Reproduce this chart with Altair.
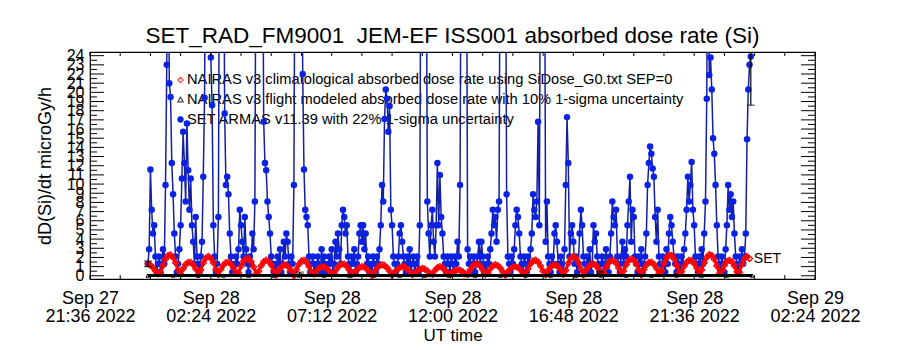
import altair as alt
import pandas as pd

# ---------------- data ----------------
# x axis: minutes after 2022-09-27 21:36 UT
x_domain = [0, 1728]
y_domain = [-0.35, 24.4]
x_tick_values = [0, 288, 576, 864, 1152, 1440, 1728]
x_tick_line1 = ["Sep 27", "Sep 28", "Sep 28", "Sep 28", "Sep 28", "Sep 28", "Sep 29"]
x_tick_line2 = ["21:36 2022", "02:24 2022", "07:12 2022", "12:00 2022",
                "16:48 2022", "21:36 2022", "02:24 2022"]
x_minor_ticks = [0, 72, 144, 216, 288, 360, 432, 504, 576, 648, 720, 792, 864, 936,
                 1008, 1080, 1152, 1224, 1296, 1368, 1440, 1512, 1584, 1656, 1728]
y_major_ticks = list(range(0, 25))
y_minor_ticks = [k + 0.5 for k in range(0, 24)]

# SET ARMAS v11.39 dose rate, one sample every 3 min starting 23:54 UT (values > 24 are off scale)
set_start, set_step = 138, 3
set_values = [
    1.3, 2.9, 11.6, 7.2, 4.6, 5.5, 2.1, 0.4, 1.3, 2.1, 0.4, 1.3, 2.9, 1.3, 9.9, 23.0, 45, 21.0, 19.5, 12.3,
    8.9, 4.6, 2.1, 0.4, 1.3, 2.9, 5.5, 10.6, 15.7, 12.3, 8.1, 16.6, 11.5, 7.2, 10.6, 5.5, 3.7, 1.3, 6.4, 2.1,
    1.3, 0.4, 2.1, 3.7, 10.8, 19.4, 45, 45, 45, 45, 23.8, 18.6, 5.5, 2.1, 0.4, 1.3, 6.4, 45, 45, 45,
    45, 17.7, 9.9, 10.8, 8.9, 4.6, 2.1, 0.4, 1.3, 0.4, 2.1, 1.3, 2.9, 7.2, 5.5, 3.7, 2.1, 6.4, 2.9, 1.3,
    0.4, 2.1, 1.3, 4.6, 2.9, 8.1, 45, 45, 45, 45, 45, 45, 16.8, 12.3, 11.5, 8.1, 6.4, 4.6, 2.1, 1.3,
    0.4, 1.3, 0.4, 2.1, 1.3, 2.9, 0.4, 1.3, 3.7, 2.1, 4.6, 3.7, 1.3, 0.4, 2.1, 1.3, 9.9, 45, 45, 45,
    45, 45, 45, 22.0, 11.6, 7.2, 6.4, 5.5, 2.1, 0.4, 1.3, 2.1, 0.4, 1.3, 0.4, 2.1, 1.3, 0.4, 2.9, 1.3,
    2.1, 0.4, 1.3, 0.4, 2.1, 1.3, 2.9, 0.4, 1.3, 3.7, 2.1, 4.6, 2.9, 1.3, 5.5, 7.2, 6.4, 4.6, 5.5, 2.1,
    1.3, 0.4, 2.1, 1.3, 2.9, 0.4, 1.3, 2.1, 4.6, 5.5, 3.7, 5.5, 2.9, 4.6, 1.3, 2.1, 0.4, 1.3, 0.4, 2.1,
    1.3, 0.4, 2.1, 1.3, 2.9, 5.5, 9.9, 8.1, 17.1, 20.3, 19.3, 15.7, 18.5, 7.2, 5.5, 2.1, 1.3, 0.4, 1.3, 2.1,
    4.6, 5.5, 3.7, 2.1, 1.3, 0.4, 2.1, 1.3, 2.9, 0.4, 1.3, 2.1, 0.4, 1.3, 2.1, 0.4, 5.5, 45, 45, 45,
    45, 45, 8.1, 4.6, 2.1, 5.5, 7.2, 3.7, 2.1, 5.5, 12.3, 5.5, 11.0, 6.4, 4.6, 2.1, 1.3, 0.4, 2.1, 1.3,
    0.4, 2.1, 1.3, 0.4, 2.1, 1.3, 3.7, 2.1, 9.9, 45, 45, 45, 45, 45, 2.9, 1.3, 2.1, 0.4, 1.3, 2.1,
    0.4, 1.3, 2.1, 3.7, 1.3, 3.7, 2.1, 0.4, 1.3, 0.4, 2.1, 1.3, 2.9, 4.6, 7.2, 5.5, 6.4, 3.7, 7.2, 8.1,
    45, 45, 45, 45, 45, 8.9, 2.1, 1.3, 0.4, 2.1, 1.3, 2.9, 5.5, 7.2, 6.4, 4.6, 2.1, 1.3, 0.4, 2.1,
    1.3, 0.4, 2.1, 1.3, 2.9, 4.6, 8.9, 7.2, 6.4, 8.1, 16.8, 5.5, 45, 45, 45, 45, 3.7, 8.1, 2.1, 1.3,
    0.4, 2.1, 1.3, 4.6, 5.5, 3.7, 1.3, 0.4, 2.1, 1.3, 0.4, 2.9, 9.9, 17.3, 12.3, 2.1, 4.6, 5.5, 3.7, 1.3,
    2.1, 0.4, 1.3, 4.6, 7.2, 5.5, 2.1, 1.3, 0.4, 2.1, 1.3, 2.9, 0.4, 1.3, 5.5, 3.7, 4.6, 2.1, 1.3, 0.4,
    1.3, 2.1, 0.4, 1.3, 2.9, 1.3, 0.4, 2.1, 4.6, 8.1, 6.4, 5.5, 7.2, 2.1, 1.3, 0.4, 2.1, 3.7, 1.3, 2.9,
    2.1, 5.5, 8.1, 10.8, 3.7, 7.2, 6.4, 2.1, 1.3, 0.4, 2.1, 1.3, 2.9, 0.4, 1.3, 2.1, 4.6, 9.9, 12.3, 14.1,
    13.3, 11.7, 10.8, 6.4, 3.7, 7.2, 2.1, 1.3, 0.4, 2.1, 1.3, 0.4, 2.9, 1.3, 4.6, 6.4, 5.5, 3.7, 2.1, 1.3,
    0.4, 2.1, 1.3, 0.4, 2.1, 1.3, 2.9, 4.6, 7.2, 10.8, 8.1, 9.9, 12.4, 7.2, 5.5, 2.1, 1.3, 0.4, 2.1, 1.3,
    2.9, 1.3, 4.6, 8.1, 19.3, 45, 21.9, 23.8, 20.3, 15.0, 13.3, 9.9, 5.5, 2.1, 1.3, 0.4, 2.1, 1.3, 0.4, 2.9,
    5.5, 9.9, 7.2, 8.9, 6.4, 8.1, 4.6, 2.1, 1.3, 0.4, 2.1, 1.3, 2.9, 1.3, 2.1, 4.6, 14.9, 20.3, 23.0, 23.9,
]

# NAIRAS v3 climatological dose rate, one value every 6 min from 23:54 UT
clim_start, clim_step = 138, 6
clim_values = [
    1.3, 1.15, 0.9, 0.55, 0.2,
    0.27, 1.12, 1.81, 2.21, 2.28, 2.0, 1.42, 0.62,
    0.19, 0.77, 1.23, 1.47, 1.46, 1.21, 0.75, 0.15,
    0.64, 1.40, 1.91, 2.1, 1.93, 1.43, 0.69,
    0.12, 0.70, 1.17, 1.44, 1.49, 1.29, 0.88, 0.33,
    0.34, 1.05, 1.59, 1.87, 1.85, 1.53, 0.96, 0.23,
    0.49, 1.1, 1.53, 1.7, 1.58, 1.18, 0.59,
    0.08, 0.58, 0.97, 1.18, 1.16, 0.92, 0.51,
    0.02, 0.69, 1.26, 1.61, 1.69, 1.48, 1.02, 0.39,
    0.18, 0.54, 0.82, 0.98, 0.98, 0.84, 0.56, 0.2,
    0.26, 0.74, 1.1, 1.28, 1.26, 1.03, 0.63, 0.13,
    0.3, 0.65, 0.9, 1.0, 0.94, 0.72, 0.4,
    0.02, 0.45, 0.84, 1.1, 1.2, 1.12, 0.88, 0.51, 0.07,
    0.32, 0.65, 0.89, 1.0, 0.96, 0.78, 0.48, 0.12,
    0.24, 0.53, 0.73, 0.8, 0.72, 0.52, 0.22,
    0.16, 0.59, 0.89, 1.0, 0.9, 0.61, 0.19,
    0.17, 0.41, 0.58, 0.65, 0.6, 0.44, 0.21,
    0.14, 0.65, 1.05, 1.27, 1.28, 1.06, 0.67, 0.16,
    0.34, 0.78, 1.08, 1.2, 1.11, 0.84, 0.42,
    0.06, 0.44, 0.75, 0.95, 1.0, 0.89, 0.65, 0.31,
    0.13, 0.78, 1.3, 1.62, 1.69, 1.5, 1.08, 0.5,
    0.12, 0.6, 0.97, 1.17, 1.18, 0.98, 0.62, 0.15,
    0.6, 1.37, 1.89, 2.1, 1.95, 1.46, 0.73,
    0.08, 0.59, 1.0, 1.25, 1.29, 1.12, 0.77, 0.29,
    0.31, 0.94, 1.42, 1.67, 1.65, 1.37, 0.86, 0.21,
    0.53, 1.2, 1.67, 1.85, 1.71, 1.29, 0.64,
    0.09, 0.69, 1.17, 1.45, 1.48, 1.26, 0.82, 0.25,
    0.54, 1.36, 1.97, 2.27, 2.23, 1.84, 1.17, 0.32,
    0.43, 1.03, 1.47, 1.69, 1.64, 1.34, 0.84, 0.2,
    0.63, 1.43, 2.01, 2.29, 2.21, 1.79, 1.09, 0.23,
    0.54, 1.16, 1.57, 1.7, 1.52, 1.07, 0.44,
    0.39, 1.27, 1.88, 2.1, 1.88,
]

# NAIRAS v3 flight modeled dose rate, hourly from 23:54 UT
flight_start, flight_step = 138, 60
flight_values = [0.02, 0.03, 0.02, 0.03, 0.02, 0.02, 0.03, 0.02, 0.02, 0.03, 0.02, 0.02, 0.03,
                 0.02, 0.02, 0.03, 0.02, 0.02, 0.03, 0.02, 0.02, 0.03, 0.02, 0.02, 0.03]

# uncertainty bars
err_t = [138, 500, 1216, 1575]
err_lo = [1.0, 0.2, 0.3, 18.6]
err_hi = [1.6, 0.4, 0.5, 29.2]

legend_labels = [
    "NAIRAS v3 climatological absorbed dose rate using SiDose_G0.txt SEP=0",
    "NAIRAS v3 flight modeled absorbed dose rate with 10% 1-sigma uncertainty",
    "SET ARMAS v11.39 with 22% 1-sigma uncertainty",
]
title_text = "SET_RAD_FM9001\u00a0\u00a0JEM-EF ISS001 absorbed dose rate (Si)"

# ---------------- tables ----------------
set_df = pd.DataFrame({"t": [set_start + set_step * i for i in range(len(set_values))], "v": set_values})
clim_df = pd.DataFrame({"t": [clim_start + clim_step * i for i in range(len(clim_values))], "v": clim_values})
flight_df = pd.DataFrame({"t": [flight_start + flight_step * i for i in range(len(flight_values))],
                          "v": flight_values})
err_df = pd.DataFrame({"t": err_t, "v": err_lo, "hi": err_hi})
ymaj_df = pd.DataFrame({"v": y_major_ticks})
ymin_df = pd.DataFrame({"v": y_minor_ticks})
xmin_df = pd.DataFrame({"t": x_minor_ticks})
set_lbl_df = pd.DataFrame({"t": [set_df["t"].iloc[-1]], "v": [1.85], "txt": ["SET"]})

W, H = 725, 227
FONT = "Liberation Sans"
BLUE_LINE = "#1420a0"
BLUE_PT = "#0a22e6"

arr = "[" + ",".join(f"['{a}','{b}']" for a, b in zip(x_tick_line1, x_tick_line2)) + "]"
label_expr = f"{arr}[round(datum.value / 288)]"

xs = alt.Scale(domain=x_domain, nice=False, zero=False)
ys = alt.Scale(domain=y_domain, nice=False, zero=False)

x_axis = alt.Axis(values=x_tick_values, labelExpr=label_expr, ticks=False, domain=False, grid=False,
                  labelFont=FONT, labelFontSize=18, labelLineHeight=18, labelPadding=10,
                  labelColor="black", labelFlush=False, labelOverlap=False,
                  title="UT time", titleFont=FONT, titleFontSize=17, titleFontWeight="normal",
                  titleColor="black", titlePadding=2)
y_axis = alt.Axis(values=y_major_ticks, ticks=False, domain=False, grid=False,
                  labelFont=FONT, labelFontSize=16, labelPadding=6, labelColor="black",
                  labelOverlap=False, labelFlush=False,
                  title="dD(Si)/dt microGy/h", titleFont=FONT, titleFontSize=18,
                  titleFontWeight="normal", titleColor="black", titlePadding=12)

# one shared encoding (same scale + same axis) for every layer
X = alt.X("t:Q", scale=xs, axis=x_axis)
Y = alt.Y("v:Q", scale=ys, axis=y_axis)

layers = []

# legend text (drawn first, data lines cross over it)
leg_y = [28, 47.5, 67.5]
for lbl, yy in zip(legend_labels, leg_y):
    layers.append(alt.Chart(pd.DataFrame({"txt": [lbl]})).mark_text(
        align="left", baseline="middle", font=FONT, fontSize=14.7, color="black"
    ).encode(x=alt.value(97), y=alt.value(yy), text="txt:N"))
layers.append(alt.Chart(pd.DataFrame({"k": [0]})).mark_point(
    shape="diamond", filled=False, color="red", size=28, strokeWidth=1.2
).encode(x=alt.value(90.5), y=alt.value(leg_y[0])))
layers.append(alt.Chart(pd.DataFrame({"k": [0]})).mark_point(
    shape="triangle-up", filled=False, color="black", size=30, strokeWidth=1.2
).encode(x=alt.value(90.5), y=alt.value(leg_y[1])))
layers.append(alt.Chart(pd.DataFrame({"k": [0]})).mark_point(
    shape="circle", filled=True, color=BLUE_PT, size=40, opacity=1
).encode(x=alt.value(90.5), y=alt.value(leg_y[2])))

# SET ARMAS
layers.append(alt.Chart(set_df).mark_line(color=BLUE_LINE, strokeWidth=1.5, clip=True).encode(x=X, y=Y))
layers.append(alt.Chart(set_df).mark_point(shape="circle", filled=True, color=BLUE_PT, size=42,
                                           opacity=1, clip=True).encode(x=X, y=Y))

# NAIRAS climatological
layers.append(alt.Chart(clim_df).mark_line(color="red", strokeWidth=3, clip=True).encode(x=X, y=Y))
layers.append(alt.Chart(clim_df).mark_point(shape="diamond", filled=False, color="red", size=36,
                                            strokeWidth=1.3, opacity=1, clip=True).encode(x=X, y=Y))

# NAIRAS flight
layers.append(alt.Chart(flight_df).mark_line(color="black", strokeWidth=3, clip=True).encode(x=X, y=Y))
layers.append(alt.Chart(flight_df).mark_point(shape="triangle-up", filled=False, color="black", size=14,
                                              strokeWidth=1, opacity=1, clip=True).encode(x=X, y=Y))

# uncertainty bars
layers.append(alt.Chart(err_df).mark_rule(color="black", strokeWidth=1.2, clip=True).encode(
    x=X, y=Y, y2="hi:Q"))
layers.append(alt.Chart(err_df).mark_tick(orient="horizontal", color="black", size=8, thickness=1.2,
                                          clip=True).encode(x=X, y=Y))
layers.append(alt.Chart(err_df).mark_tick(orient="horizontal", color="black", size=8, thickness=1.2,
                                          clip=True).encode(x=X, y=alt.Y("hi:Q", scale=ys, axis=y_axis)))

layers.append(alt.Chart(set_lbl_df).mark_text(align="left", baseline="middle", dx=3, font=FONT,
                                              fontSize=14, color="black").encode(x=X, y=Y, text="txt:N"))

# inward ticks (IDL style box axes)
layers.append(alt.Chart(ymaj_df).mark_rule(color="black", strokeWidth=1).encode(
    y=Y, x=alt.value(0), x2=alt.value(14)))
layers.append(alt.Chart(ymin_df).mark_rule(color="black", strokeWidth=1).encode(
    y=Y, x=alt.value(0), x2=alt.value(7)))
layers.append(alt.Chart(ymaj_df).mark_rule(color="black", strokeWidth=1).encode(
    y=Y, x=alt.value(W), x2=alt.value(W - 14)))
layers.append(alt.Chart(ymin_df).mark_rule(color="black", strokeWidth=1).encode(
    y=Y, x=alt.value(W), x2=alt.value(W - 7)))
layers.append(alt.Chart(xmin_df).mark_rule(color="black", strokeWidth=1).encode(
    x=X, y=alt.value(0), y2=alt.value(4)))
layers.append(alt.Chart(xmin_df).mark_rule(color="black", strokeWidth=1).encode(
    x=X, y=alt.value(H), y2=alt.value(H - 4)))

chart = alt.layer(*layers).properties(
    width=W, height=H,
    title=alt.TitleParams(title_text, font=FONT, fontSize=22.5, fontWeight="normal", color="black",
                          anchor="middle", offset=0),
    autosize=alt.AutoSizeParams(type="none"),
    padding={"left": 90, "top": 52, "right": 85, "bottom": 71},
    background="white",
).configure_view(stroke="black", strokeWidth=1.2)

chart.save("out.html", embed_options={"renderer": "svg", "actions": False})
